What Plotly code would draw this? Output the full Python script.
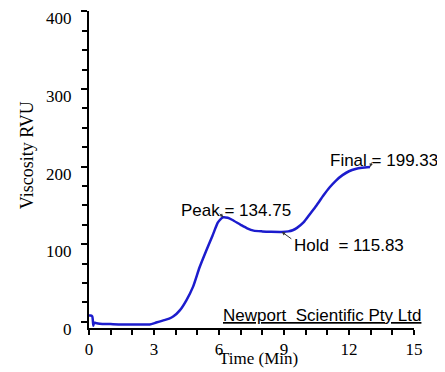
import plotly.graph_objects as go

# ---- data ----
time_min = [0, 0.08, 0.15, 0.2, 0.23, 0.3, 0.5, 1.0, 1.5, 2.0, 2.5, 2.8, 3.1, 3.4,
            3.7, 3.9, 4.2, 4.5, 4.8, 5.1, 5.4, 5.7, 5.95, 6.1, 6.2, 6.4, 6.6, 7.0,
            7.3, 7.6, 8.0, 8.4, 8.9, 9.2, 9.4, 9.6, 9.9, 10.2, 10.5, 10.8, 11.1,
            11.4, 11.7, 12.0, 12.3, 12.6, 12.97]
viscosity = [8, 8, 7, -5, -1, -1.5, -2.5, -3, -3.5, -3.5, -3.5, -3.5, -1, 1.5,
             4, 7, 15, 28, 45, 70, 91, 111, 128, 133, 134.75, 134, 131.5, 125,
             120.5, 117.5, 116.5, 116, 115.83, 116.5, 118, 121, 128, 139, 150, 162, 173,
             182, 189, 194, 197, 198.5, 199.33]

peak_t, peak_v = 6.2, 134.75
hold_t, hold_v = 8.9, 115.83
final_t, final_v = 12.97, 199.33

x_ticks = [0, 3, 6, 9, 12, 15]
y_ticks = [0, 100, 200, 300, 400]

serif = "Liberation Serif"
sans = "Liberation Sans"
blue = "rgb(28,28,205)"

fig = go.Figure()
fig.add_trace(go.Scatter(x=time_min, y=viscosity, mode="lines",
                         line=dict(color=blue, width=2.5, shape="spline", smoothing=0.6),
                         showlegend=False, hoverinfo="skip"))

# page body has an 8px margin, so the figure is sized/margined to land in the 445x372 view
fig.update_layout(
    width=437, height=364, autosize=False,
    margin=dict(l=81, r=31, t=3, b=44),
    paper_bgcolor="white", plot_bgcolor="white",
    showlegend=False,
)
fig.update_xaxes(range=[0, 15], tickvals=x_ticks, ticktext=[str(v) for v in x_ticks],
                 automargin=False,
                 showgrid=False, zeroline=False, showline=True, linecolor="black", linewidth=2,
                 ticks="outside", ticklen=5, tickwidth=2, tickcolor="black",
                 minor=dict(dtick=1, ticks="outside", ticklen=5, tickwidth=2, tickcolor="black"),
                 tickfont=dict(family=serif, size=17, color="black"))
fig.update_yaxes(range=[-8, 400.5], tickvals=y_ticks, ticktext=[str(v) for v in y_ticks],
                 automargin=False,
                 showgrid=False, zeroline=False, showline=True, linecolor="black", linewidth=2,
                 ticks="outside", ticklen=6, tickwidth=2, tickcolor="black",
                 minor=dict(tick0=0, dtick=25, ticks="outside", ticklen=5, tickwidth=2, tickcolor="black"),
                 tickfont=dict(family=serif, size=17, color="black"),
                 ticklabelshift=7, ticklabelstandoff=6)

ann_font = dict(family=sans, size=17, color="black")
# text labels
fig.add_annotation(x=peak_t, y=peak_v, xref="x", yref="y", text="Peak = 134.75", showarrow=False,
                   xanchor="left", yanchor="middle", xshift=-44, yshift=7, font=ann_font)
fig.add_annotation(x=hold_t, y=hold_v, xref="x", yref="y", text="Hold\u00a0 = 115.83", showarrow=False,
                   xanchor="left", yanchor="middle", xshift=10, yshift=-14, font=ann_font)
fig.add_annotation(x=final_t, y=final_v, xref="x", yref="y", text="Final = 199.33", showarrow=False,
                   xanchor="left", yanchor="middle", xshift=-42, yshift=7, font=ann_font)
# small pointer arrows
for (xt, yv, ax, ay) in [(peak_t, peak_v, -5, -5), (hold_t, hold_v, 11, 8), (final_t, final_v, 2, -6)]:
    fig.add_annotation(x=xt, y=yv, xref="x", yref="y", text="", showarrow=True,
                       ax=ax, ay=ay, arrowhead=2, arrowsize=0.7, arrowwidth=1, arrowcolor="#333")

fig.add_annotation(x=0.405, y=0.041, xref="paper", yref="paper",
                   text="<u>Newport\u00a0 Scientific Pty Ltd</u>", showarrow=False,
                   xanchor="left", yanchor="middle", font=ann_font)
# axis titles
fig.add_annotation(x=-0.19, y=0.546, xref="paper", yref="paper", text="Viscosity RVU",
                   textangle=-90, showarrow=False, xanchor="center", yanchor="middle",
                   font=dict(family=serif, size=18, color="black"))
fig.add_annotation(x=0.52, y=-0.095, xref="paper", yref="paper", text="Time (Min)",
                   showarrow=False, xanchor="center", yanchor="middle",
                   font=dict(family=serif, size=17, color="black"))

fig.write_html("out.html")
